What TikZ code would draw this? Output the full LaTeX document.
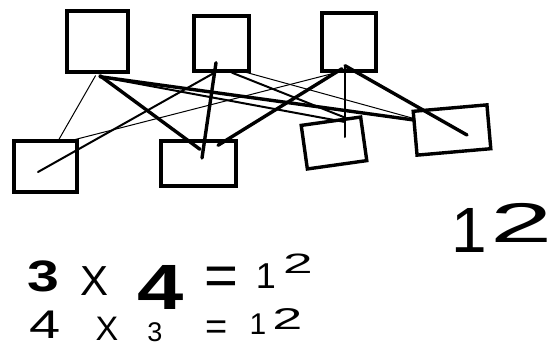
\documentclass[tikz,border=0pt]{standalone}
\usepackage{fontspec}
\setmainfont{Liberation Sans}
\usetikzlibrary{calc}
\begin{document}
\begin{tikzpicture}[x=1pt,y=-1pt,
  box/.style={draw,line width=3.4pt,inner sep=0pt,minimum width=#1},
  thin/.style={line width=1pt,line cap=round},
  mid/.style={line width=2pt,line cap=round},
  thick/.style={line width=3.4pt,line cap=round},
  glyph/.style={inner sep=0pt,anchor=center}]
\useasboundingbox (0,0) rectangle (557,346);
% top boxes
\node[box=61pt,minimum height=61pt] (t1) at (97.5,41.5) {};
\node[box=55pt,minimum height=55pt] (t2) at (221.5,43.5) {};
\node[box=54pt,minimum height=58pt] (t3) at (349,42) {};
% bottom boxes
\node[box=63pt,minimum height=51pt] (b1) at (45.5,166.5) {};
\node[box=75pt,minimum height=45pt] (b2) at (198.5,163.5) {};
\node[box=60pt,minimum height=44pt,rotate=8] (b3) at (334,143) {};
\node[box=74pt,minimum height=44pt,rotate=5] (b4) at (452,130) {};
% connectors
\draw[thin]  ($(t1.south)+(-2,2)$) -- ($(b1.north)+(13.5,0)$);
\draw[thick] ($(t1.south)+(2.5,2)$) -- ($(b2.north)+(1.5,10)$);
\draw[mid]   ($(t1.south)+(2.5,3)$) -- ($(b3.center)+(11,-21)$);
\draw[thick] ($(t1.south)+(2.5,3)$) -- ($(b4.center)+(-38,-10)$);
\draw[mid]   ($(t2.south)+(-7,0)$) -- ($(b1.center)+(-7.5,5.5)$);
\draw[thick] ($(t2.south)+(-5.5,-10)$) -- ($(b2.center)+(3.5,-5.5)$);
\draw[mid]   ($(t2.south)+(10.5,0)$) -- ($(b3.center)+(12,-25)$);
\draw[thin]  ($(t2.south)+(18.5,-2)$) -- ($(b4.center)+(-40,-12)$);
\draw[thin]  ($(t3.south)+(-13,0)$) -- ($(b1.north)+(26.5,1)$);
\draw[thick] ($(t3.south)+(-7,-4)$) -- ($(b2.north)+(19.5,6)$);
\draw[mid]   ($(t3.south)+(-4,-7)$) -- ($(b3.center)+(11,-6)$);
\draw[thick] ($(t3.south)+(-4,-7)$) -- ($(b4.center)+(15,5)$);
% first row: 3 X 4 = 12
\node[glyph,font=\fontsize{44}{44}\selectfont\bfseries,xscale=1.3] (r1a) at (43.5,276.5) {3};
\node[glyph,font=\fontsize{42}{42}\selectfont] (r1b) at (94.5,281.5) {X};
\node[glyph,font=\fontsize{64}{64}\selectfont\bfseries,xscale=1.3] (r1c) at (161,287) {4};
\node[glyph,font=\fontsize{58}{58}\selectfont,anchor=north] (r1d) at (221.5,267) {=};
\node[glyph,font=\fontsize{36}{36}\selectfont] (r1e) at (266,276) {1};
\node[glyph,font=\fontsize{28}{28}\selectfont,xscale=1.9] (r1f) at (298,263.5) {2};
% second row: 4 X 3 = 12
\node[glyph,font=\fontsize{40}{40}\selectfont,xscale=1.4] (r2a) at (45.5,325) {4};
\node[glyph,font=\fontsize{34}{34}\selectfont] (r2b) at (107,328.5) {X};
\node[glyph,font=\fontsize{27}{27}\selectfont] (r2c) at (155,332) {3};
\node[glyph,font=\fontsize{38}{38}\selectfont] (r2d) at (216.5,330) {=};
\node[glyph,font=\fontsize{30}{30}\selectfont] (r2e) at (258,324) {1};
\node[glyph,font=\fontsize{30}{30}\selectfont,xscale=1.8] (r2f) at (287.5,319) {2};
% right: 12
\node[glyph,font=\fontsize{64}{64}\selectfont] (ra) at (469.5,230) {1};
\node[glyph,font=\fontsize{56}{56}\selectfont,xscale=2] (rb) at (522,223) {2};
\end{tikzpicture}
\end{document}
